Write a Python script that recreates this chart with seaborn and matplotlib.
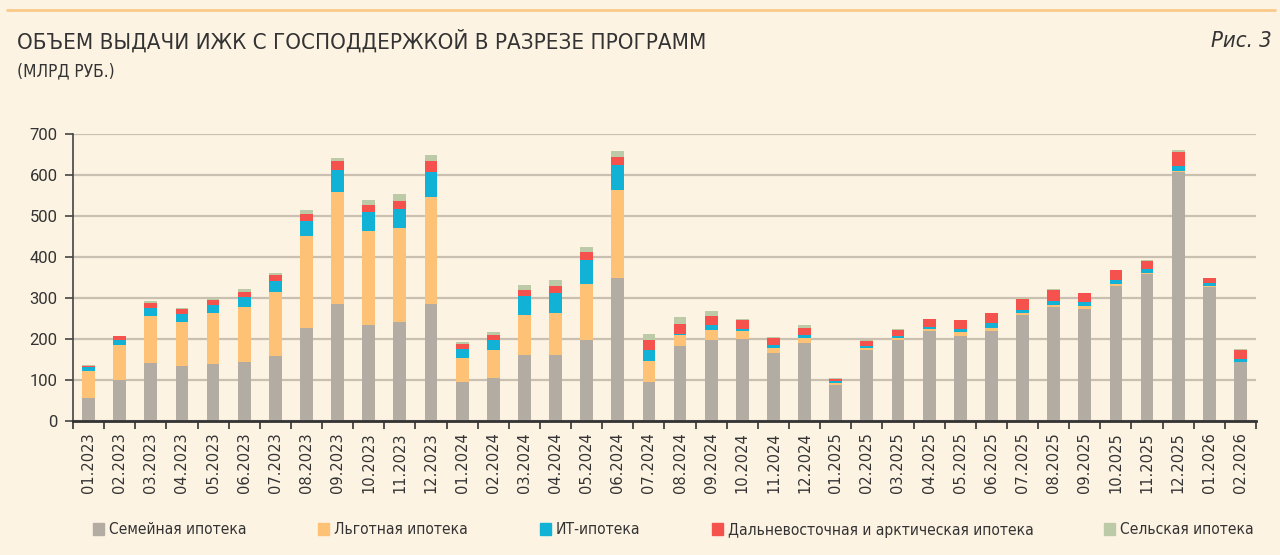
import numpy as np
import pandas as pd
import matplotlib
matplotlib.use("Agg")
import matplotlib.pyplot as plt
import matplotlib.patches as mpatches
from matplotlib import font_manager as fm
from matplotlib.ticker import MultipleLocator, FixedLocator
import seaborn as sns

months = ["01.2023", "02.2023", "03.2023", "04.2023", "05.2023", "06.2023",
          "07.2023", "08.2023", "09.2023", "10.2023", "11.2023", "12.2023",
          "01.2024", "02.2024", "03.2024", "04.2024", "05.2024", "06.2024",
          "07.2024", "08.2024", "09.2024", "10.2024", "11.2024", "12.2024",
          "01.2025", "02.2025", "03.2025", "04.2025", "05.2025", "06.2025",
          "07.2025", "08.2025", "09.2025", "10.2025", "11.2025", "12.2025",
          "01.2026", "02.2026"]

family = [57, 100, 142, 133, 140, 145, 158, 228, 286, 234, 242, 285,
          95, 105, 162, 160, 198, 348, 94, 184, 198, 199, 166, 191,
          87, 173, 198, 219, 207, 220, 259, 279, 272, 330, 359, 607,
          328, 143]
preferential = [66, 85, 115, 109, 123, 133, 157, 223, 273, 230, 228, 261,
                59, 67, 96, 104, 135, 215, 53, 26, 25, 21, 13, 11,
                6, 4, 4, 5, 10, 8, 4, 5, 8, 4, 3, 2,
                2, 2]
it_mortgage = [8, 13, 19, 18, 19, 24, 26, 38, 53, 45, 48, 61,
               22, 26, 48, 48, 60, 62, 26, 2, 10, 4, 6, 8,
               4, 6, 6, 6, 7, 10, 8, 9, 10, 10, 9, 12,
               6, 7]
far_east = [4, 9, 13, 12, 14, 13, 15, 16, 21, 19, 19, 26,
            13, 11, 14, 18, 18, 20, 25, 24, 22, 22, 17, 18,
            6, 13, 15, 18, 22, 25, 27, 27, 22, 24, 20, 36,
            12, 22]
rural = [1, 1, 4, 3, 3, 6, 6, 10, 9, 11, 17, 16,
         4, 8, 12, 14, 13, 14, 13, 18, 14, 3, 2, 5,
         2, 2, 1, 1, 1, 1, 1, 1, 1, 1, 1, 3,
         1, 1]

series_names = ["Семейная ипотека", "Льготная ипотека", "ИТ-ипотека",
                "Дальневосточная и арктическая ипотека", "Сельская ипотека"]
series_values = [family, preferential, it_mortgage, far_east, rural]
colors = ["#b3aca2", "#fdc275", "#12b2d6", "#f5524e", "#bccaa8"]

BG = "#fdf3e3"
TXT = "#333333"
GRID = "#c9c0b2"

sns.set_theme(style="white")
plt.rcParams["font.family"] = ["DejaVu Sans"]

# pick a condensed face if one is installed, else Roboto with smaller sizes
narrow_props = None
scale = 1.0
for fam, stretch in [("Liberation Sans Narrow", "normal"), ("DejaVu Sans", "condensed")]:
    try:
        fp = fm.FontProperties(family=fam, stretch=stretch)
        path = fm.findfont(fp, fallback_to_default=False)
        if "Narrow" in path or "Condensed" in path:
            narrow_props = dict(family=[fam], fontstretch=stretch)
            break
    except Exception:
        pass
if narrow_props is None:
    narrow_props = dict(family=["Roboto", "DejaVu Sans"])
    scale = 0.9

fig = plt.figure(figsize=(12.8, 5.55), dpi=100, facecolor=BG)
ax = fig.add_axes([73 / 1280, 1 - 421 / 555, (1256 - 73) / 1280, (421 - 134) / 555])
ax.set_facecolor(BG)

df = pd.DataFrame({"month": months})
cum = np.zeros(len(months))
cums = []
for vals in series_values:
    cum = cum + np.array(vals, dtype=float)
    cums.append(cum.copy())

# draw cumulative layers from top to bottom so each lower layer covers the upper one
for i in range(len(series_values) - 1, -1, -1):
    d = df.copy()
    d["v"] = cums[i]
    sns.barplot(data=d, x="month", y="v", order=months, color=colors[i],
                width=0.41, saturation=1, ax=ax, linewidth=0, errorbar=None,
                zorder=3)

ax.set_xlim(-0.5, len(months) - 0.5)
ax.set_ylim(0, 700)
ax.yaxis.set_major_locator(MultipleLocator(100))
ax.grid(axis="y", color=GRID, linewidth=1.6, zorder=0)
ax.grid(axis="x", visible=False)
ax.set_axisbelow(True)
ax.set_xlabel("")
ax.set_ylabel("")

for s in ["top", "right"]:
    ax.spines[s].set_visible(False)
ax.spines["left"].set_color("#444444")
ax.spines["left"].set_linewidth(1.2)
ax.spines["bottom"].set_color("#333333")
ax.spines["bottom"].set_linewidth(2.0)
ax.spines["bottom"].set_zorder(5)

ax.set_xticks(range(len(months)))
ax.set_xticklabels(months, rotation=90, fontsize=10.5, color=TXT,
                   family=["DejaVu Sans"])
ax.tick_params(axis="x", which="major", length=0, pad=8)
ax.xaxis.set_minor_locator(FixedLocator(np.arange(-0.5, len(months), 1.0)))
ax.tick_params(axis="x", which="minor", length=6, width=1.2, color="#333333",
               direction="out", bottom=True)
ax.tick_params(axis="y", which="major", length=6, width=1.2, color="#444444",
               direction="out", left=True, labelsize=12, labelcolor=TXT, pad=5)
for lab in ax.get_yticklabels():
    lab.set_family(["Roboto", "DejaVu Sans"])

# header
fig.add_artist(plt.Line2D([7 / 1280, 1275 / 1280], [1 - 10 / 555, 1 - 10 / 555],
                          color="#fbc98a", linewidth=2, transform=fig.transFigure))
fig.text(17 / 1280, 1 - 41 / 555, "ОБЪЕМ ВЫДАЧИ ИЖК С ГОСПОДДЕРЖКОЙ В РАЗРЕЗЕ ПРОГРАММ",
         fontsize=16 * scale, color=TXT, va="center", ha="left", **narrow_props)
fig.text(17 / 1280, 1 - 71 / 555, "(МЛРД РУБ.)",
         fontsize=12.4 * scale, color=TXT, va="center", ha="left", **narrow_props)
fig.text(1272 / 1280, 1 - 41 / 555, "Рис. 3", fontsize=15.8 * scale, color=TXT,
         style="italic", va="center", ha="right", **narrow_props)

# legend: one entry per position, as in the reference
leg_x = [93, 318, 540, 712, 1104]
leg_prop = fm.FontProperties(size=11.2 * scale, family=narrow_props["family"],
                             stretch=narrow_props.get("fontstretch", "normal"))
for x, c, n in zip(leg_x, colors, series_names):
    h = mpatches.Patch(color=c, label=n)
    lg = fig.legend(handles=[h], loc="center left",
                    bbox_to_anchor=(x / 1280, 1 - 530 / 555), frameon=False,
                    handlelength=0.7, handleheight=0.8, handletextpad=0.3,
                    borderpad=0, borderaxespad=0, prop=leg_prop)
    for t in lg.get_texts():
        t.set_color(TXT)

fig.savefig("out.png", dpi=100, facecolor=BG)
